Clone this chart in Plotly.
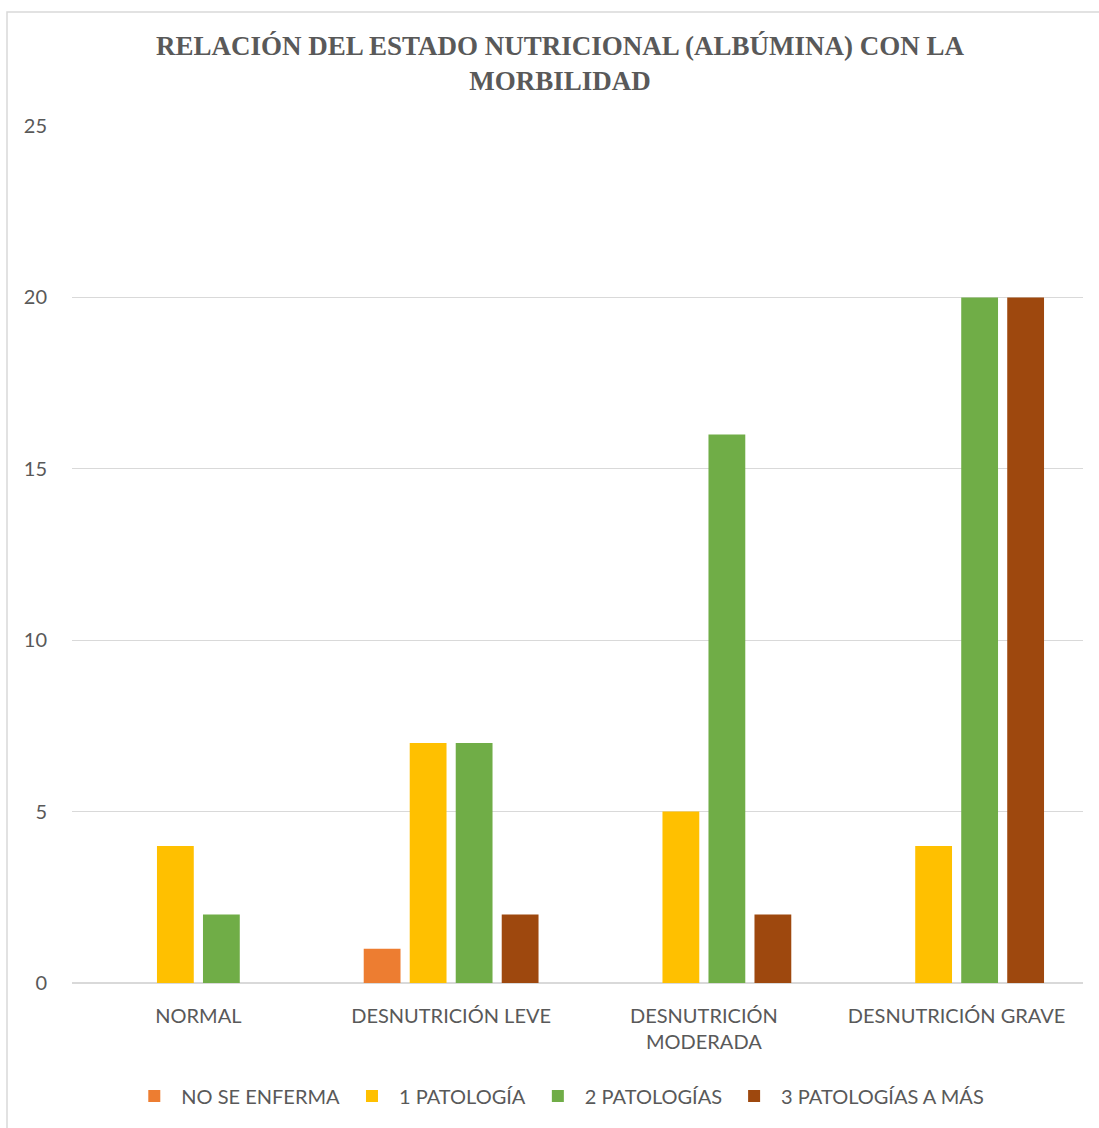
import plotly.graph_objects as go

# Estado nutricional (albúmina) por categoría
categorias = ["NORMAL", "DESNUTRICIÓN LEVE", "DESNUTRICIÓN<br>MODERADA", "DESNUTRICIÓN GRAVE"]

# Número de pacientes según morbilidad
no_se_enferma = [0, 1, 0, 0]
una_patologia = [4, 7, 5, 4]
dos_patologias = [2, 7, 16, 20]
tres_o_mas = [0, 2, 2, 20]

series = [
    ("NO SE ENFERMA", no_se_enferma, "#ED7D31"),
    ("1 PATOLOGÍA", una_patologia, "#FFC000"),
    ("2 PATOLOGÍAS", dos_patologias, "#70AD47"),
    ("3 PATOLOGÍAS A MÁS", tres_o_mas, "#9E480E"),
]

W, H = 1099, 1128
L, R, T, B = 72, 16, 126, 145
pw, ph = W - L - R, H - T - B

fig = go.Figure()
for nombre, valores, color in series:
    fig.add_trace(go.Bar(
        name=nombre, x=categorias, y=valores,
        marker=dict(color=color, line=dict(width=0)),
    ))

sans = "Lato, 'Open Sans', sans-serif"
gris = "#595959"

fig.update_layout(
    width=W, height=H,
    margin=dict(l=L, r=R, t=T, b=B, autoexpand=False),
    paper_bgcolor="white", plot_bgcolor="white",
    barmode="group", bargap=0.272, bargroupgap=0.2,
    title=dict(
        text="<b>RELACIÓN DEL ESTADO NUTRICIONAL (ALBÚMINA) CON LA<br>MORBILIDAD</b>",
        font=dict(family="'Liberation Serif', 'Times New Roman', serif", size=27, color=gris),
        x=560 / W, xanchor="center", xref="container",
        y=1 - 55 / H, yanchor="top", yref="container",
    ),
    font=dict(family=sans, color=gris, size=20),
    xaxis=dict(
        showgrid=False, showline=False, ticks="", ticklabelstandoff=19,
        tickfont=dict(family=sans, size=20, color=gris),
        fixedrange=True,
    ),
    yaxis=dict(
        range=[0, 25], tickvals=[0, 5, 10, 15, 20, 25],
        showgrid=True, gridcolor="#D9D9D9", gridwidth=1,
        zeroline=True, zerolinecolor="#D9D9D9", zerolinewidth=1.5,
        showline=False, ticks="", ticklabelstandoff=24,
        tickfont=dict(family=sans, size=20, color=gris),
    ),
    legend=dict(
        orientation="h", x=0.481, xanchor="center",
        y=(983 - 1096) / ph, yanchor="middle",
        font=dict(family=sans, size=20, color=gris),
        itemwidth=44, traceorder="normal",
    ),
    shapes=[dict(
        type="rect", xref="paper", yref="paper",
        x0=(7 - L) / pw, x1=(W + 5 - L) / pw,
        y0=(983 - (H + 5)) / ph, y1=(983 - 12) / ph,
        line=dict(color="#D9D9D9", width=1.5), fillcolor="rgba(0,0,0,0)",
        layer="below",
    )],
)

fig.write_html("out.html")
